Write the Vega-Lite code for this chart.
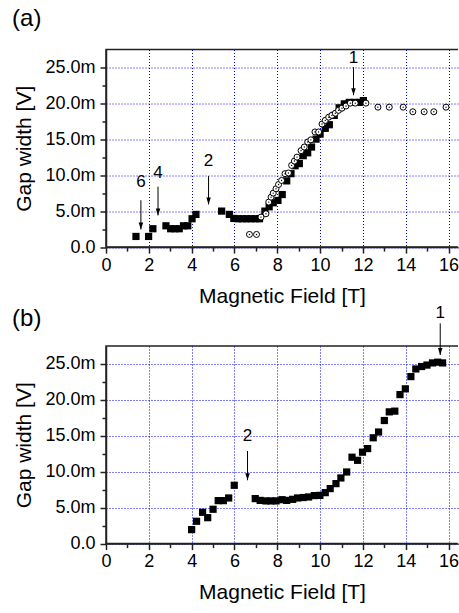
{
  "$schema": "https://vega.github.io/schema/vega-lite/v6.json",
  "background": "white",
  "padding": {"left": 11, "top": 5.5, "right": 0, "bottom": 0},
  "config": {
    "font": "Liberation Sans",
    "view": {"stroke": "#222222", "strokeWidth": 1.5, "strokeDash": [352, 198, 600]},
    "axis": {
      "domainColor": "#222222", "domainWidth": 1.5,
      "tickColor": "#222222", "tickWidth": 1.5,
      "labelColor": "black", "labelFont": "Liberation Sans", "labelFontSize": 18,
      "titleFont": "Liberation Sans", "titleFontSize": 21, "titleFontWeight": "normal", "titleColor": "black",
      "gridColor": "#0000ff", "gridDash": [1, 2], "gridWidth": 1,
      "labelOverlap": false, "labelFlush": false
    }
  },
  "datasets": {
    "a_sq": [
      {"B": 1.40, "V": 1.48}, {"B": 1.99, "V": 1.48}, {"B": 2.19, "V": 2.55}, {"B": 2.80, "V": 2.96},
      {"B": 3.02, "V": 2.55}, {"B": 3.22, "V": 2.55}, {"B": 3.42, "V": 2.55}, {"B": 3.62, "V": 2.96},
      {"B": 3.82, "V": 2.96}, {"B": 4.02, "V": 3.94}, {"B": 4.20, "V": 4.54}, {"B": 5.40, "V": 5.0},
      {"B": 5.76, "V": 4.54}, {"B": 5.97, "V": 3.98}, {"B": 6.17, "V": 3.94}, {"B": 6.37, "V": 3.94},
      {"B": 6.57, "V": 3.94}, {"B": 6.77, "V": 3.94}, {"B": 6.97, "V": 3.94}, {"B": 7.17, "V": 3.94},
      {"B": 7.42, "V": 5.0}, {"B": 7.62, "V": 5.6}, {"B": 7.81, "V": 6.16}, {"B": 8.03, "V": 6.48},
      {"B": 8.23, "V": 7.3}, {"B": 8.44, "V": 9.2}, {"B": 8.64, "V": 10.2}, {"B": 8.83, "V": 11.3},
      {"B": 9.03, "V": 11.6}, {"B": 9.21, "V": 12.7}, {"B": 9.42, "V": 13.1}, {"B": 9.60, "V": 13.9},
      {"B": 9.81, "V": 15.0}, {"B": 10.0, "V": 15.7}, {"B": 10.24, "V": 16.5}, {"B": 10.43, "V": 17.0},
      {"B": 10.66, "V": 18.3}, {"B": 10.89, "V": 19.35}, {"B": 11.13, "V": 19.9}, {"B": 11.36, "V": 20.1},
      {"B": 11.6, "V": 20.1}, {"B": 11.83, "V": 20.1}, {"B": 12.02, "V": 20.35}
    ],
    "a_circ": [
      {"B": 6.70, "V": 1.76}, {"B": 7.03, "V": 1.76},
      {"B": 7.24, "V": 4.17}, {"B": 7.47, "V": 4.63}, {"B": 7.60, "V": 6.25}, {"B": 7.71, "V": 6.94},
      {"B": 7.81, "V": 7.5}, {"B": 7.94, "V": 8.1}, {"B": 8.06, "V": 8.7}, {"B": 8.20, "V": 9.26},
      {"B": 8.36, "V": 10.2}, {"B": 8.52, "V": 10.3}, {"B": 8.67, "V": 11.35}, {"B": 8.80, "V": 11.95},
      {"B": 8.92, "V": 12.5}, {"B": 9.11, "V": 13.4}, {"B": 9.26, "V": 13.9}, {"B": 9.42, "V": 14.6},
      {"B": 9.57, "V": 14.9}, {"B": 9.76, "V": 16.0}, {"B": 9.93, "V": 16.0}, {"B": 10.09, "V": 17.1},
      {"B": 10.24, "V": 17.6}, {"B": 10.40, "V": 18.05}, {"B": 10.55, "V": 18.3}, {"B": 10.71, "V": 18.6},
      {"B": 10.86, "V": 19.0}, {"B": 11.02, "V": 19.3}, {"B": 11.21, "V": 19.6}, {"B": 11.41, "V": 20.0},
      {"B": 11.64, "V": 20.0}, {"B": 12.14, "V": 20.0}, {"B": 12.70, "V": 19.44}, {"B": 13.23, "V": 19.44},
      {"B": 13.88, "V": 19.44}, {"B": 14.33, "V": 18.8}, {"B": 14.86, "V": 18.8}, {"B": 15.31, "V": 18.8},
      {"B": 15.88, "V": 19.44}
    ],
    "b_sq": [
      {"B": 4.0, "V": 1.94}, {"B": 4.23, "V": 3.1}, {"B": 4.51, "V": 4.35}, {"B": 4.75, "V": 3.6},
      {"B": 5.0, "V": 4.77}, {"B": 5.24, "V": 5.97}, {"B": 5.48, "V": 5.97}, {"B": 5.73, "V": 6.34},
      {"B": 5.99, "V": 8.1}, {"B": 6.97, "V": 6.25}, {"B": 7.2, "V": 6.0}, {"B": 7.47, "V": 5.93},
      {"B": 7.70, "V": 5.93}, {"B": 7.94, "V": 5.93}, {"B": 8.22, "V": 6.1}, {"B": 8.44, "V": 6.0},
      {"B": 8.72, "V": 6.15}, {"B": 8.95, "V": 6.34}, {"B": 9.21, "V": 6.4}, {"B": 9.46, "V": 6.48},
      {"B": 9.73, "V": 6.67}, {"B": 9.99, "V": 6.7}, {"B": 10.24, "V": 7.08}, {"B": 10.47, "V": 7.64},
      {"B": 10.74, "V": 8.33}, {"B": 10.97, "V": 9.12}, {"B": 11.24, "V": 9.95}, {"B": 11.49, "V": 12.0},
      {"B": 11.75, "V": 11.57}, {"B": 11.98, "V": 12.7}, {"B": 12.22, "V": 13.2}, {"B": 12.48, "V": 14.7},
      {"B": 12.73, "V": 15.5}, {"B": 13.0, "V": 17.1}, {"B": 13.23, "V": 18.3}, {"B": 13.49, "V": 18.4},
      {"B": 13.73, "V": 20.7}, {"B": 13.98, "V": 21.5}, {"B": 14.24, "V": 23.2}, {"B": 14.47, "V": 24.26},
      {"B": 14.74, "V": 24.6}, {"B": 14.99, "V": 24.8}, {"B": 15.25, "V": 25.1}, {"B": 15.49, "V": 25.2},
      {"B": 15.72, "V": 25.1}
    ],
    "a_arrow_shaft": [
      {"B": 1.63, "V": 6.5, "V2": 2.45},
      {"B": 2.43, "V": 8.4, "V2": 4.4},
      {"B": 4.79, "V": 9.86, "V2": 5.93},
      {"B": 11.56, "V": 25.0, "V2": 21.1}
    ],
    "a_arrow_tip": [
      {"B": 1.63, "V": 2.45}, {"B": 2.43, "V": 4.4}, {"B": 4.79, "V": 5.93}, {"B": 11.56, "V": 21.1}
    ],
    "a_arrow_text": [
      {"label": "6", "B": 1.63, "V": 9.0},
      {"label": "4", "B": 2.43, "V": 10.3},
      {"label": "2", "B": 4.79, "V": 11.9},
      {"label": "1", "B": 11.56, "V": 26.2}
    ],
    "a_panel": [{"label": "(a)", "B": -3.70, "V": 31.7}],
    "b_arrow_shaft": [
      {"B": 6.61, "V": 12.86, "V2": 8.8},
      {"B": 15.61, "V": 30.6, "V2": 26.2}
    ],
    "b_arrow_tip": [
      {"B": 6.61, "V": 8.8}, {"B": 15.61, "V": 26.2}
    ],
    "b_arrow_text": [
      {"label": "2", "B": 6.61, "V": 14.9},
      {"label": "1", "B": 15.61, "V": 32.0}
    ],
    "b_panel": [{"label": "(b)", "B": -3.70, "V": 31.2}]
  },
  "bounds": "flush",
  "spacing": 98.5,
  "vconcat": [
    {
      "width": 352,
      "height": 197.6,
      "encoding": {
        "x": {"field": "B", "type": "quantitative", "scale": {"domain": [0, 16.44], "nice": false, "zero": false},
          "axis": {"title": "Magnetic Field [T]", "values": [0,1,2,3,4,5,6,7,8,9,10,11,12,13,14,15,16], "format": "d",
            "labelExpr": "datum.value % 2 === 0 ? datum.label : ''",
            "tickSize": {"condition": {"test": "datum.value % 2 !== 0", "value": 4}, "value": 6},
            "gridOpacity": {"condition": {"test": "datum.value % 2 !== 0", "value": 0}, "value": 1},
            "grid": true, "labelOverlap": false, "labelPadding": 3, "titlePadding": 11}},
        "y": {"field": "V", "type": "quantitative", "scale": {"domain": [0, 27.45], "nice": false, "zero": false},
          "axis": {"title": "Gap width [V]", "values": [0,2.5,5,7.5,10,12.5,15,17.5,20,22.5,25],
            "labelExpr": "datum.value % 5 !== 0 ? '' : (datum.value === 0 ? '0.0' : format(datum.value, '.1f') + 'm')",
            "tickSize": {"condition": {"test": "datum.value % 5 !== 0", "value": 4}, "value": 6},
            "gridOpacity": {"condition": {"test": "datum.value % 5 !== 0", "value": 0}, "value": 1},
            "grid": true, "labelOverlap": false, "labelPadding": 5, "titlePadding": 10}}
      },
      "layer": [
        {
          "data": {"name": "a_sq"},
          "mark": {"type": "point", "shape": "square", "filled": true, "color": "black", "size": 52, "opacity": 1}
        },
        {
          "data": {"name": "a_circ"},
          "mark": {"type": "point", "shape": "circle", "filled": true, "fill": "white", "stroke": "black", "strokeWidth": 1, "size": 36, "opacity": 1}
        },
        {
          "data": {"name": "a_circ"},
          "mark": {"type": "point", "shape": "circle", "filled": true, "color": "black", "size": 2, "opacity": 1}
        },
        {
          "data": {"name": "a_arrow_shaft"},
          "mark": {"type": "rule", "color": "black", "strokeWidth": 1, "clip": false},
          "encoding": {"y2": {"field": "V2"}}
        },
        {
          "data": {"name": "a_arrow_tip"},
          "mark": {"type": "point", "shape": "M-0.45,-1.4L0.45,-1.4L0,0Z", "filled": true, "color": "black", "size": 100, "opacity": 1, "clip": false}
        },
        {
          "data": {"name": "a_arrow_text"},
          "mark": {"type": "text", "fontSize": 17, "color": "black", "align": "center", "baseline": "middle", "clip": false},
          "encoding": {"text": {"field": "label"}}
        },
        {
          "data": {"name": "a_panel"},
          "mark": {"type": "text", "fontSize": 24, "color": "black", "align": "center", "baseline": "middle", "clip": false},
          "encoding": {"text": {"field": "label"}}
        }
      ]
    },
    {
      "width": 352,
      "height": 197.6,
      "encoding": {
        "x": {"field": "B", "type": "quantitative", "scale": {"domain": [0, 16.44], "nice": false, "zero": false},
          "axis": {"title": "Magnetic Field [T]", "values": [0,1,2,3,4,5,6,7,8,9,10,11,12,13,14,15,16], "format": "d",
            "labelExpr": "datum.value % 2 === 0 ? datum.label : ''",
            "tickSize": {"condition": {"test": "datum.value % 2 !== 0", "value": 4}, "value": 6},
            "gridOpacity": {"condition": {"test": "datum.value % 2 !== 0", "value": 0}, "value": 1},
            "grid": true, "labelOverlap": false, "labelPadding": 3, "titlePadding": 11}},
        "y": {"field": "V", "type": "quantitative", "scale": {"domain": [0, 27.45], "nice": false, "zero": false},
          "axis": {"title": "Gap width [V]", "values": [0,2.5,5,7.5,10,12.5,15,17.5,20,22.5,25],
            "labelExpr": "datum.value % 5 !== 0 ? '' : (datum.value === 0 ? '0.0' : format(datum.value, '.1f') + 'm')",
            "tickSize": {"condition": {"test": "datum.value % 5 !== 0", "value": 4}, "value": 6},
            "gridOpacity": {"condition": {"test": "datum.value % 5 !== 0", "value": 0}, "value": 1},
            "grid": true, "labelOverlap": false, "labelPadding": 5, "titlePadding": 10}}
      },
      "layer": [
        {
          "data": {"name": "b_sq"},
          "mark": {"type": "point", "shape": "square", "filled": true, "color": "black", "size": 52, "opacity": 1}
        },
        {
          "data": {"name": "b_arrow_shaft"},
          "mark": {"type": "rule", "color": "black", "strokeWidth": 1, "clip": false},
          "encoding": {"y2": {"field": "V2"}}
        },
        {
          "data": {"name": "b_arrow_tip"},
          "mark": {"type": "point", "shape": "M-0.45,-1.4L0.45,-1.4L0,0Z", "filled": true, "color": "black", "size": 100, "opacity": 1, "clip": false}
        },
        {
          "data": {"name": "b_arrow_text"},
          "mark": {"type": "text", "fontSize": 17, "color": "black", "align": "center", "baseline": "middle", "clip": false},
          "encoding": {"text": {"field": "label"}}
        },
        {
          "data": {"name": "b_panel"},
          "mark": {"type": "text", "fontSize": 24, "color": "black", "align": "center", "baseline": "middle", "clip": false},
          "encoding": {"text": {"field": "label"}}
        }
      ]
    }
  ]
}
